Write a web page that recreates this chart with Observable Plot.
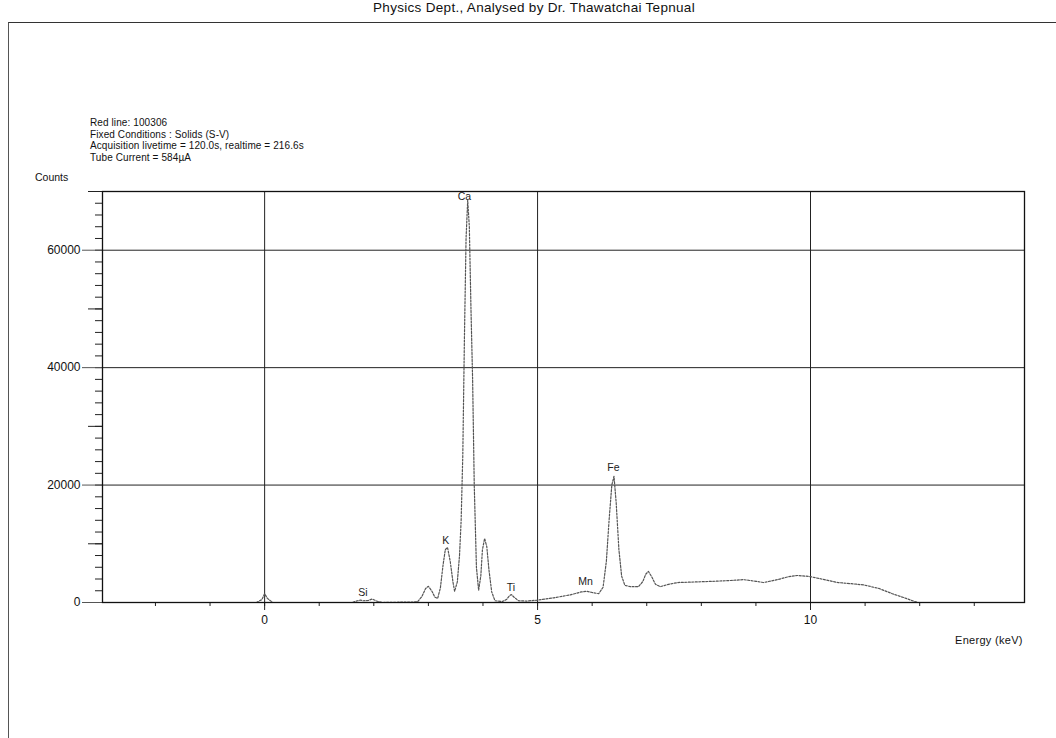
<!DOCTYPE html>
<html>
<head>
<meta charset="utf-8">
<script src="https://cdn.jsdelivr.net/npm/d3@7"></script>
<script src="https://cdn.jsdelivr.net/npm/@observablehq/plot@0.6"></script>
<style>
  html, body { margin: 0; padding: 0; background: #fff; }
  #wrap { position: relative; width: 1056px; height: 738px; overflow: hidden; font-family: "Liberation Sans", Arial, sans-serif; color: #111; }
  #wrap svg { position: absolute; left: 0; top: 0; }
  .t { position: absolute; white-space: nowrap; }
  #outer { position: absolute; left: 8px; top: 22px; width: 1060px; height: 730px; border-top: 1.5px solid #333; border-left: 1.5px solid #555; }
</style>
</head>
<body>
<div id="wrap">
  <div id="outer"></div>
  <div class="t" id="title" style="left:0;width:1068px;text-align:center;top:0px;font-size:13.5px;letter-spacing:0.3px;"></div>
  <div class="t" id="notes" style="left:90px;top:117px;font-size:10px;line-height:11.5px;letter-spacing:0.1px;"></div>
  <div class="t" id="ylab" style="left:35px;top:171px;font-size:10.5px;"></div>
  <div class="t" id="xlab" style="left:955px;top:634px;font-size:11px;letter-spacing:0.3px;"></div>
</div>
<script>
const titleText = "Physics Dept., Analysed by Dr. Thawatchai Tepnual";
const noteLines = [
  "Red line: 100306",
  "Fixed Conditions : Solids (S-V)",
  "Acquisition livetime = 120.0s, realtime = 216.6s",
  "Tube Current = 584µA"
];
const yAxisLabel = "Counts";
const xAxisLabel = "Energy (keV)";

// spectrum (energy keV, counts)
const energy = [
  -2.97, -0.15, -0.05, 0, 0.05, 0.15,
  1.6, 1.7, 1.75, 1.8, 1.9, 1.97, 2.05, 2.15,
  2.8, 2.88, 2.95, 3.0, 3.06, 3.12, 3.17,
  3.22, 3.27, 3.31, 3.35, 3.40, 3.45, 3.48,
  3.53, 3.57, 3.60, 3.63, 3.66, 3.69, 3.72, 3.75, 3.78, 3.81, 3.84, 3.88, 3.92,
  3.96, 3.99, 4.03, 4.07, 4.11, 4.16, 4.22,
  4.35, 4.43, 4.48, 4.52, 4.57, 4.65, 4.8,
  5.0, 5.3, 5.6, 5.8, 5.9, 6.0, 6.12,
  6.2, 6.26, 6.31, 6.36, 6.40, 6.44, 6.49, 6.54, 6.6,
  6.7, 6.85, 6.93, 6.98, 7.03, 7.09, 7.16, 7.25,
  7.4, 7.57, 7.9, 8.2, 8.54, 8.77, 9.0, 9.14,
  9.4, 9.6, 9.76, 9.97, 10.2, 10.5, 10.75, 10.97,
  11.25, 11.5, 11.75, 11.96, 13.92
];
const counts = [
  0, 0, 500, 1500, 700, 0,
  0, 300, 400, 300, 350, 600, 250, 0,
  100, 1000, 2400, 2750, 2000, 900, 700,
  2500, 6500, 9000, 9400, 7000, 3500, 1900,
  3500, 8000, 14000, 25000, 45000, 62000, 68500, 64000, 50000, 38000, 20000, 6000, 2100,
  4500, 9000, 10900, 9500, 5500, 1800, 300,
  150, 500, 1100, 1350, 900, 300, 250,
  400, 800, 1300, 1800, 1900, 1700, 1500,
  2600, 7000, 14000, 20000, 21500, 17000, 9000, 4500, 2900,
  2700, 2700, 3600, 4800, 5300, 4400, 3100, 2700,
  3100, 3400, 3500, 3600, 3750, 3900, 3600, 3400,
  3900, 4400, 4600, 4450, 4000, 3400, 3200, 3000,
  2400, 1500, 700, 0, 0
];

// peak labels
const peakNames = ["Si", "K", "Ca", "Ti", "Mn", "Fe"];
const peakEnergy = [1.8, 3.32, 3.66, 4.51, 5.88, 6.39];
const peakLabelCounts = [1700, 10600, 69200, 2500, 3500, 22900];

const xMajor = [0, 5, 10];
const xMinor = d3.range(-2, 14, 1);
const yMajor = [0, 20000, 40000, 60000];
const yMid = [10000, 30000, 50000, 70000];
const yMinor = d3.range(0, 70001, 2000);

const spectrum = energy.map((e, i) => ({energy: e, counts: counts[i]}));
const labels = peakNames.map((n, i) => ({name: n, energy: peakEnergy[i], counts: peakLabelCounts[i]}));

const chart = Plot.plot({
  width: 1056,
  height: 738,
  marginLeft: 102,
  marginRight: 32,
  marginTop: 191,
  marginBottom: 136,
  style: {fontFamily: "Liberation Sans, Arial, sans-serif", fontSize: "11px", color: "#111", background: "transparent"},
  x: {domain: [-2.97, 13.92]},
  y: {domain: [0, 70000]},
  marks: [
    Plot.ruleX(xMajor, {stroke: "#222", strokeWidth: 1}),
    Plot.ruleY(yMajor.slice(1), {stroke: "#222", strokeWidth: 1}),
    Plot.axisY({ticks: yMinor, tickSize: 7, text: null, label: null, stroke: "#222"}),
    Plot.axisY({ticks: yMid, tickSize: 14, text: null, label: null, stroke: "#222"}),
    Plot.axisY({ticks: yMajor, tickSize: 20, tickPadding: 2, tickFormat: d => String(d), label: null, stroke: "#555", fontSize: 12}),
    Plot.axisX({ticks: xMinor, tickSize: 4, text: null, label: null, stroke: "#222"}),
    Plot.axisX({ticks: xMajor, tickSize: 8, tickPadding: 5, tickFormat: d => String(d), label: null, stroke: "#222", fontSize: 12}),
    Plot.line(spectrum, {x: "energy", y: "counts", stroke: "#555", strokeWidth: 1.2, strokeDasharray: "2,1.5"}),
    Plot.text(labels, {x: "energy", y: "counts", text: "name", fontSize: 10.5, fill: "#222"}),
    Plot.frame({stroke: "#111", strokeWidth: 1.3})
  ]
});
document.getElementById("wrap").appendChild(chart);
document.getElementById("title").textContent = titleText;
document.getElementById("notes").innerHTML = noteLines.map(s => s.replace(/&/g,"&amp;").replace(/</g,"&lt;")).join("<br>");
document.getElementById("ylab").textContent = yAxisLabel;
document.getElementById("xlab").textContent = xAxisLabel;
</script>
</body>
</html>
